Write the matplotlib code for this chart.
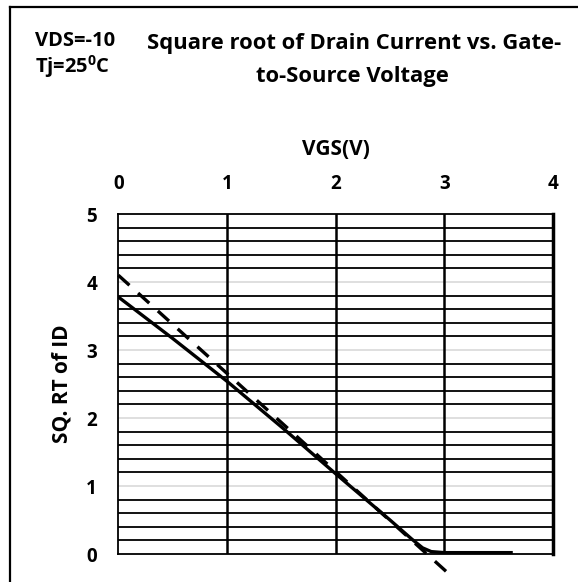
import numpy as np
import matplotlib.pyplot as plt
from matplotlib.lines import Line2D

# values
vgs_meas = [0.0, 0.5, 1.0, 1.5, 2.0, 2.5, 2.7, 2.8, 2.88, 3.0, 3.3, 3.63]
sqrt_id_meas = [3.78, 3.17, 2.54, 1.87, 1.18, 0.50, 0.22, 0.09, 0.035, 0.02, 0.02, 0.02]

vgs_fit = [0.0, 3.03]
sqrt_id_fit = [4.10, -0.275]

x_ticks = [0, 1, 2, 3, 4]
y_ticks = [0, 1, 2, 3, 4, 5]

plt.rcParams['font.family'] = ['Open Sans', 'DejaVu Sans']
plt.rcParams['font.weight'] = 'bold'

W, H = 578, 582
fig = plt.figure(figsize=(W / 100, H / 100), dpi=100)
ax = fig.add_axes([118.3 / W, 1 - 554 / H, (553 - 118.3) / W, (554 - 214) / H])

ax.set_xlim(0, 4)
ax.set_ylim(0, 5)

# horizontal grid: dark every 0.2, light grey on the integers
for v in np.arange(1, 25) * 0.2:
    if abs(v - round(v)) < 1e-6:
        ax.axhline(v, color='#d9d9d9', lw=1.2, zorder=1)
    else:
        ax.axhline(v, color='black', lw=1.3, zorder=1)
for v in [1, 2, 3]:
    ax.axvline(v, color='black', lw=1.8, zorder=1)

ax.plot(vgs_meas, sqrt_id_meas, color='black', lw=2.4, zorder=3,
        solid_capstyle='butt')
ax.plot(vgs_fit, sqrt_id_fit, color='black', lw=2.4, zorder=3,
        dashes=(4.5, 3.5), clip_on=False)

ax.xaxis.tick_top()
ax.xaxis.set_label_position('top')
ax.set_xticks(x_ticks)
ax.set_yticks(y_ticks)
ax.tick_params(length=0, labelsize=13.5)
ax.tick_params(axis='x', pad=14.5)
ax.tick_params(axis='y', pad=15.3)
for lab in ax.get_xticklabels() + ax.get_yticklabels():
    lab.set_fontweight('bold')

ax.set_xlabel('VGS(V)', fontsize=15, fontweight='bold', va='baseline')
ax.xaxis.set_label_coords(0.5, (554 - 155) / 340)
ax.set_ylabel('SQ. RT of ID', fontsize=15, fontweight='bold', va='center')
ax.yaxis.set_label_coords((62 - 118.3) / 434.7, 0.5)

for side in ['left', 'top', 'bottom']:
    ax.spines[side].set_linewidth(1.3)
ax.spines['right'].set_linewidth(2.5)

fig.text(354 / W, 1 - 49.5 / H, 'Square root of Drain Current vs. Gate-',
         ha='center', va='baseline', fontsize=15.8, fontweight='bold')
fig.text(352.5 / W, 1 - 81.7 / H, 'to-Source Voltage',
         ha='center', va='baseline', fontsize=15.8, fontweight='bold')
fig.text(35 / W, 1 - 46 / H, 'VDS=-10', ha='left', va='baseline', fontsize=14.5, fontweight='bold')
fig.text(35 / W, 1 - 73 / H, 'Tj=25$^{\\mathregular{0}}$C', ha='left', va='baseline',
         fontsize=14.5, fontweight='bold')

# outer frame (only top and left edges are visible in the crop)
fig.add_artist(Line2D([10 / W, 10 / W], [0, 1 - 7 / H], color='black', lw=1.6,
                      transform=fig.transFigure))
fig.add_artist(Line2D([10 / W, 1], [1 - 7 / H, 1 - 7 / H], color='black', lw=1.6,
                      transform=fig.transFigure))

fig.savefig('out.png', dpi=100)
